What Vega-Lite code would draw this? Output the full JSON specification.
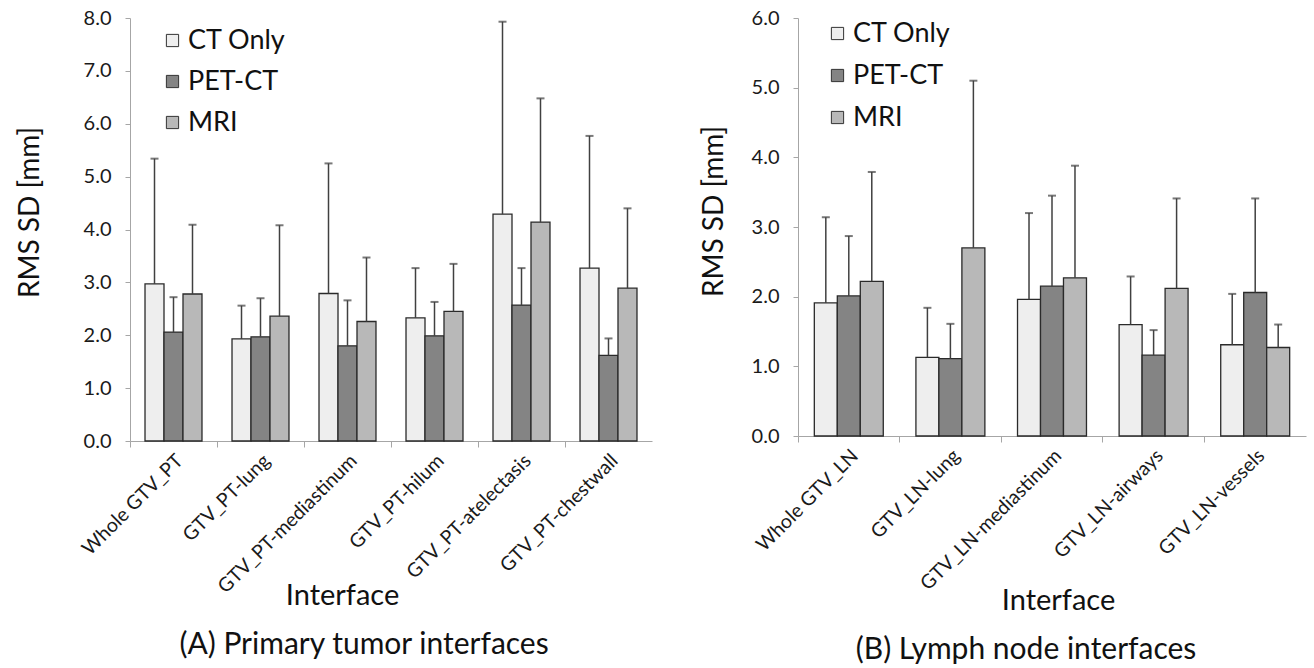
{
  "$schema": "https://vega.github.io/schema/vega-lite/v6.json",
  "background": "white",
  "padding": {"left": 16, "top": 8, "right": 5, "bottom": 5},
  "spacing": 48,
  "config": {
    "font": "Lato",
    "view": {"stroke": null},
    "axis": {
      "domainColor": "#a6a6a6",
      "tickColor": "#a6a6a6",
      "labelColor": "#1a1a1a",
      "titleColor": "#111111",
      "titleFontWeight": "normal",
      "grid": false
    }
  },
  "datasets": {
    "pt": [
      {"interface": "Whole GTV_PT", "modality": "CT Only", "value": 2.97, "upper": 5.34},
      {"interface": "Whole GTV_PT", "modality": "PET-CT", "value": 2.06, "upper": 2.72},
      {"interface": "Whole GTV_PT", "modality": "MRI", "value": 2.78, "upper": 4.09},
      {"interface": "GTV_PT-lung", "modality": "CT Only", "value": 1.93, "upper": 2.56},
      {"interface": "GTV_PT-lung", "modality": "PET-CT", "value": 1.97, "upper": 2.70},
      {"interface": "GTV_PT-lung", "modality": "MRI", "value": 2.36, "upper": 4.08},
      {"interface": "GTV_PT-mediastinum", "modality": "CT Only", "value": 2.79, "upper": 5.25},
      {"interface": "GTV_PT-mediastinum", "modality": "PET-CT", "value": 1.80, "upper": 2.66},
      {"interface": "GTV_PT-mediastinum", "modality": "MRI", "value": 2.26, "upper": 3.47},
      {"interface": "GTV_PT-hilum", "modality": "CT Only", "value": 2.33, "upper": 3.27},
      {"interface": "GTV_PT-hilum", "modality": "PET-CT", "value": 1.99, "upper": 2.63},
      {"interface": "GTV_PT-hilum", "modality": "MRI", "value": 2.45, "upper": 3.35},
      {"interface": "GTV_PT-atelectasis", "modality": "CT Only", "value": 4.29, "upper": 7.93},
      {"interface": "GTV_PT-atelectasis", "modality": "PET-CT", "value": 2.57, "upper": 3.27},
      {"interface": "GTV_PT-atelectasis", "modality": "MRI", "value": 4.14, "upper": 6.48},
      {"interface": "GTV_PT-chestwall", "modality": "CT Only", "value": 3.27, "upper": 5.77},
      {"interface": "GTV_PT-chestwall", "modality": "PET-CT", "value": 1.62, "upper": 1.94},
      {"interface": "GTV_PT-chestwall", "modality": "MRI", "value": 2.89, "upper": 4.40}
    ],
    "ln": [
      {"interface": "Whole GTV_LN", "modality": "CT Only", "value": 1.91, "upper": 3.14},
      {"interface": "Whole GTV_LN", "modality": "PET-CT", "value": 2.01, "upper": 2.87},
      {"interface": "Whole GTV_LN", "modality": "MRI", "value": 2.22, "upper": 3.79},
      {"interface": "GTV_LN-lung", "modality": "CT Only", "value": 1.13, "upper": 1.84},
      {"interface": "GTV_LN-lung", "modality": "PET-CT", "value": 1.11, "upper": 1.61},
      {"interface": "GTV_LN-lung", "modality": "MRI", "value": 2.70, "upper": 5.10},
      {"interface": "GTV_LN-mediastinum", "modality": "CT Only", "value": 1.96, "upper": 3.20},
      {"interface": "GTV_LN-mediastinum", "modality": "PET-CT", "value": 2.15, "upper": 3.45},
      {"interface": "GTV_LN-mediastinum", "modality": "MRI", "value": 2.27, "upper": 3.88},
      {"interface": "GTV_LN-airways", "modality": "CT Only", "value": 1.60, "upper": 2.29},
      {"interface": "GTV_LN-airways", "modality": "PET-CT", "value": 1.16, "upper": 1.52},
      {"interface": "GTV_LN-airways", "modality": "MRI", "value": 2.12, "upper": 3.41},
      {"interface": "GTV_LN-vessels", "modality": "CT Only", "value": 1.31, "upper": 2.04},
      {"interface": "GTV_LN-vessels", "modality": "PET-CT", "value": 2.06, "upper": 3.41},
      {"interface": "GTV_LN-vessels", "modality": "MRI", "value": 1.27, "upper": 1.60}
    ]
  },
  "resolve": {
    "scale": {"fill": "independent", "x": "independent", "xOffset": "independent", "y": "independent"},
    "legend": {"fill": "independent"}
  },
  "hconcat": [
    {
      "width": 522,
      "height": 423,
      "data": {"name": "pt"},
      "title": {"text": "(A) Primary tumor interfaces", "orient": "bottom", "frame": "bounds", "anchor": "middle", "fontSize": 30, "fontWeight": "normal", "offset": 20, "dx": 30, "color": "#111111"},
      "encoding": {
        "x": {
          "field": "interface", "type": "nominal", "sort": null,
          "scale": {"paddingInner": 0, "paddingOuter": 0},
          "axis": {"title": "Interface", "titleFontSize": 29, "titleX": 212, "titleY": 140, "titleBaseline": "top", "titleAnchor": "middle", "bandPosition": 0, "labelAngle": -45, "labelFontSize": 19.5, "labelPadding": 4, "tickSize": 6, "labelLimit": 300}
        },
        "xOffset": {"field": "modality", "type": "nominal", "sort": ["CT Only", "PET-CT", "MRI"], "scale": {"domain": ["CT Only", "PET-CT", "MRI"], "paddingInner": 0, "paddingOuter": 0.79}}
      },
      "layer": [
        {
          "mark": {"type": "bar", "stroke": "#2a2a2a", "strokeWidth": 1.3},
          "encoding": {
            "y": {"field": "value", "type": "quantitative", "scale": {"domain": [0, 8]},
              "axis": {"title": "RMS SD [mm]", "titleFontSize": 28, "titleY": 194, "values": [0, 1, 2, 3, 4, 5, 6, 7, 8], "format": ".1f", "labelFontSize": 20, "tickSize": 5, "labelPadding": 14, "titlePadding": 39}},
            "fill": {"field": "modality", "type": "nominal", "sort": ["CT Only", "PET-CT", "MRI"],
              "scale": {"domain": ["CT Only", "PET-CT", "MRI"], "range": ["#eeeeee", "#848484", "#b8b8b8"]},
              "legend": {"title": null, "orient": "none", "legendX": 29, "legendY": 9, "symbolType": "square", "symbolSize": 150, "symbolStrokeColor": "#333333", "symbolStrokeWidth": 1, "labelFontSize": 27, "labelColor": "#111111", "rowPadding": 13, "labelOffset": 2}}
          }
        },
        {
          "mark": {"type": "rule", "color": "#404040", "strokeWidth": 1.5},
          "encoding": {
            "y": {"field": "value", "type": "quantitative"},
            "y2": {"field": "upper"}
          }
        },
        {
          "mark": {"type": "tick", "color": "#404040", "thickness": 2, "size": 8, "orient": "horizontal"},
          "encoding": {
            "y": {"field": "upper", "type": "quantitative"}
          }
        }
      ]
    },
    {
      "width": 508,
      "height": 418,
      "data": {"name": "ln"},
      "title": {"text": "(B) Lymph node interfaces", "orient": "bottom", "frame": "bounds", "anchor": "middle", "fontSize": 30, "fontWeight": "normal", "offset": 20, "dx": 23, "color": "#111111"},
      "encoding": {
        "x": {
          "field": "interface", "type": "nominal", "sort": null,
          "scale": {"paddingInner": 0, "paddingOuter": 0},
          "axis": {"title": "Interface", "titleFontSize": 29, "titleX": 260, "titleY": 150, "titleBaseline": "top", "titleAnchor": "middle", "bandPosition": 0, "labelAngle": -45, "labelFontSize": 19.5, "labelPadding": 4, "tickSize": 6, "labelLimit": 300}
        },
        "xOffset": {"field": "modality", "type": "nominal", "sort": ["CT Only", "PET-CT", "MRI"], "scale": {"domain": ["CT Only", "PET-CT", "MRI"], "paddingInner": 0, "paddingOuter": 0.71}}
      },
      "layer": [
        {
          "mark": {"type": "bar", "stroke": "#2a2a2a", "strokeWidth": 1.3},
          "encoding": {
            "y": {"field": "value", "type": "quantitative", "scale": {"domain": [0, 6]},
              "axis": {"title": "RMS SD [mm]", "titleFontSize": 28, "titleY": 193, "values": [0, 1, 2, 3, 4, 5, 6], "format": ".1f", "labelFontSize": 20, "tickSize": 5, "labelPadding": 14, "titlePadding": 23}},
            "fill": {"field": "modality", "type": "nominal", "sort": ["CT Only", "PET-CT", "MRI"],
              "scale": {"domain": ["CT Only", "PET-CT", "MRI"], "range": ["#eeeeee", "#848484", "#b8b8b8"]},
              "legend": {"title": null, "orient": "none", "legendX": 26, "legendY": 2, "symbolType": "square", "symbolSize": 150, "symbolStrokeColor": "#333333", "symbolStrokeWidth": 1, "labelFontSize": 27, "labelColor": "#111111", "rowPadding": 14, "labelOffset": 2}}
          }
        },
        {
          "mark": {"type": "rule", "color": "#404040", "strokeWidth": 1.5},
          "encoding": {
            "y": {"field": "value", "type": "quantitative"},
            "y2": {"field": "upper"}
          }
        },
        {
          "mark": {"type": "tick", "color": "#404040", "thickness": 2, "size": 8, "orient": "horizontal"},
          "encoding": {
            "y": {"field": "upper", "type": "quantitative"}
          }
        }
      ]
    }
  ]
}
